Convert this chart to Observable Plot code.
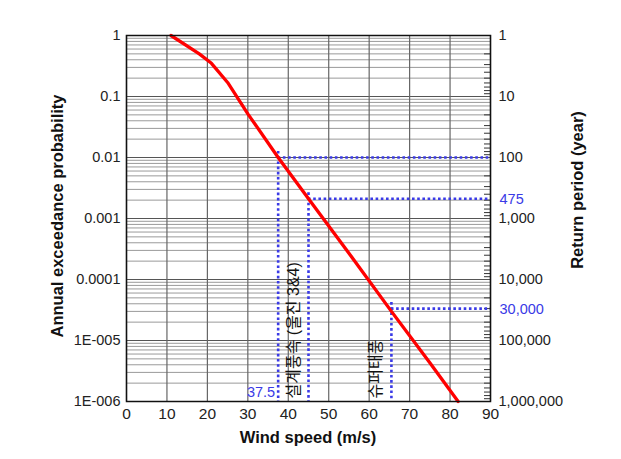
<!DOCTYPE html>
<html><head><meta charset="utf-8">
<script src="https://cdn.jsdelivr.net/npm/d3@7"></script>
<script src="https://cdn.jsdelivr.net/npm/@observablehq/plot@0.6"></script>
<style>body{margin:0;background:#fff}</style>
</head><body><div id="chart"></div>
<script>
// Curve: wind speed vs annual exceedance probability
const windSpeed = [11, 18, 21, 25, 30, 37.5, 45, 55, 65.5, 75, 82];
const exceedProb = [1, 0.5, 0.35, 0.17, 0.052, 0.01, 0.0021, 0.00027, 0.00003, 0.0000043, 0.000001];

// Axis ticks
const xTicks = [0, 10, 20, 30, 40, 50, 60, 70, 80, 90];
const probTicks = [1, 0.1, 0.01, 0.001, 0.0001, 0.00001, 0.000001];
const probTickLabels = ["1", "0.1", "0.01", "0.001", "0.0001", "1E-005", "1E-006"];
const returnTickLabels = ["1", "10", "100", "1,000", "10,000", "100,000", "1,000,000"];

// Design thresholds
const designSpeeds = [37.5, 45, 65.5];
const designReturn = [100, 475, 30000];
const designReturnLabels = ["", "475", "30,000"];
const speedLabel = ["37.5"];

// Rotated annotations
const annotations = ["설계풍속 (울진 3&4)", "슈퍼태풍"];
const annotationX = [41.3, 61.6];

// Axis titles
const xTitle = "Wind speed (m/s)";
const yTitle = "Annual exceedance probability";
const y2Title = "Return period (year)";

const curve = windSpeed.map((w, i) => ({w, p: exceedProb[i]}));
const design = designSpeeds.map((w, i) => ({w, p: 1 / designReturn[i], label: designReturnLabels[i]}));
const minorProb = [];
for (let k = -6; k <= -1; k++) for (let m = 2; m <= 9; m++) minorProb.push(m * Math.pow(10, k));
const minorReturn = [];
for (let k = 0; k <= 5; k++) for (let m = 2; m <= 9; m++) minorReturn.push(1 / (m * Math.pow(10, k)));
const decadeIndex = d => Math.round(-Math.log10(d));

const font = "Liberation Sans, Arial, 'Noto Sans CJK KR', sans-serif";
const blue = "#3a3ae6";
const W = 621, H = 459, mL = 126, mR = 131, mT = 35, mB = 58;

const chart = Plot.plot({
  width: W, height: H,
  marginLeft: mL, marginRight: mR, marginTop: mT, marginBottom: mB,
  style: {fontFamily: font, fontSize: "14px", background: "#fff", color: "#222"},
  x: {domain: [0, 90], label: null},
  y: {type: "log", domain: [0.000001, 1], label: null},
  marks: [
    Plot.ruleY(minorProb, {stroke: "#9a9a9a", strokeWidth: 1}),
    Plot.ruleY(probTicks, {stroke: "#555", strokeWidth: 1.2}),
    Plot.ruleX(xTicks, {stroke: "#666", strokeWidth: 1.2}),
    Plot.ruleY(minorReturn, {stroke: "#333", strokeWidth: 1, insetLeft: W - mL - mR - 6}),
    Plot.axisX({ticks: xTicks, tickSize: 0, tickPadding: 6, tickFormat: d => String(d), fontSize: 15.5, label: null}),
    Plot.axisY({anchor: "left", ticks: probTicks, tickSize: 0, tickPadding: 6, tickFormat: d => probTickLabels[decadeIndex(d)], fontSize: 14.5, label: null}),
    Plot.axisY({anchor: "right", ticks: probTicks, tickSize: 0, tickPadding: 8, tickFormat: d => returnTickLabels[decadeIndex(d)], fontSize: 14.5, label: null}),
    // design lines
    Plot.ruleY(design, {y: "p", x1: "w", x2: 90, stroke: blue, strokeWidth: 2.6, strokeDasharray: "2.6,2.6"}),
    Plot.ruleX(design, {x: "w", y1: "p", y2: 0.000001, stroke: blue, strokeWidth: 2.6, strokeDasharray: "2.6,2.6", insetTop: -6}),
    Plot.text(design, {x: 90, y: "p", text: "label", textAnchor: "start", dx: 9, dy: 1, fill: blue, fontSize: 14.5}),
    Plot.text(speedLabel, {x: designSpeeds[0], y: 0.000001, text: d => d, textAnchor: "end", dx: -3, dy: -9, fill: blue, fontSize: 14.5}),
    // curve
    Plot.line(curve, {x: "w", y: "p", stroke: "#ff0000", strokeWidth: 3.3, curve: "linear"}),
    // annotations
    Plot.text(annotations, {x: (d, i) => annotationX[i], y: 0.000001, text: d => d, rotate: -90, textAnchor: "start", dy: -3, fill: "#111", fontSize: 16}),
    Plot.frame({stroke: "#111", strokeWidth: 1.5})
  ]
});

const svg = d3.select(chart);
const addTitle = (text, x, y, rot) => svg.append("text")
  .attr("transform", `translate(${x},${y})` + (rot ? ` rotate(${rot})` : ""))
  .attr("text-anchor", "middle").attr("dominant-baseline", "central")
  .attr("font-family", font).attr("font-size", 16.5).attr("font-weight", "bold").attr("fill", "#111")
  .text(text);
addTitle(yTitle, 57, 216, -90);
addTitle(y2Title, 577, 190, -90);
addTitle(xTitle, 308, 437, 0);

document.getElementById("chart").appendChild(chart);
</script>
</body></html>
